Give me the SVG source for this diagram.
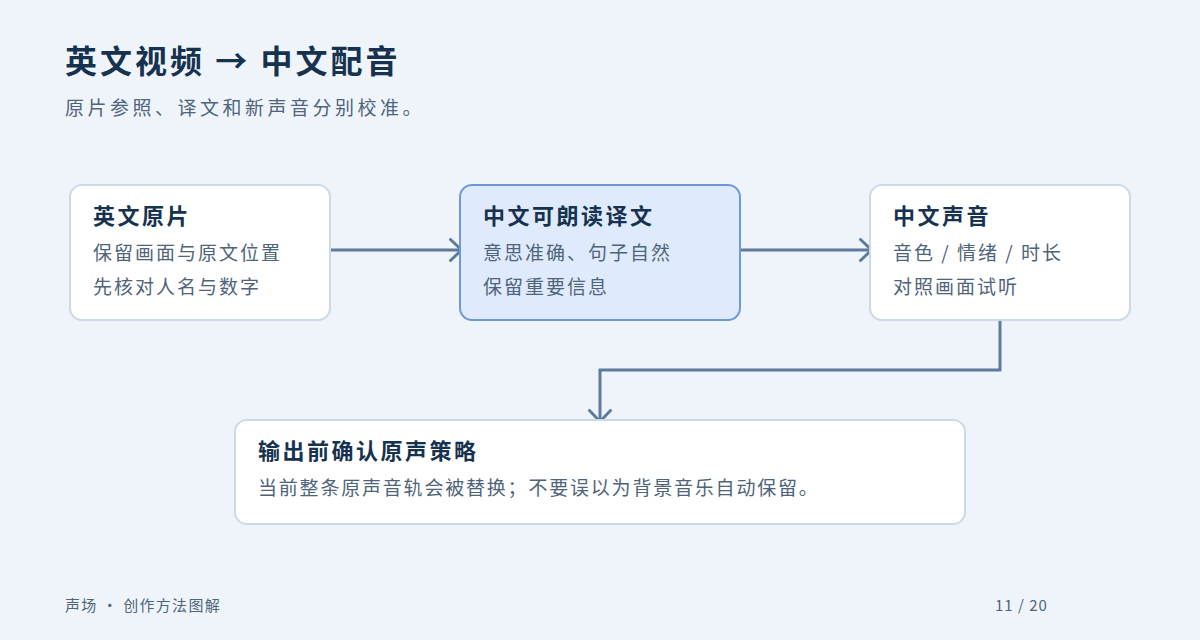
<svg xmlns="http://www.w3.org/2000/svg" width="1200" height="640" viewBox="0 0 1200 640">
<style>
text{font-family:"Noto Sans CJK SC","Noto Sans",sans-serif}
.box{fill:#fff;stroke:#cdd9e6;stroke-width:2}
.hl{fill:#dfeafc;stroke:#6f98d8;stroke-width:2}
.t{font-size:22px;font-weight:700;fill:#16324f;letter-spacing:2.5px}
.s{font-size:19px;fill:#4f647a;letter-spacing:2px}
.c{fill:none;stroke:#5f7b9c;stroke-width:3}
</style>
<defs><marker id="a" viewBox="0 0 14 24" refX="13" refY="12" markerWidth="14" markerHeight="24" markerUnits="userSpaceOnUse" orient="auto"><path d="M1.5 1.5 L12.5 12 L1.5 22.5" fill="none" stroke="#5f7b9c" stroke-width="3" stroke-linecap="round"/></marker></defs>
<rect width="1200" height="640" fill="#eff4fb"/>
<text x="65" y="73" font-size="32" font-weight="700" fill="#16324f" letter-spacing="3">英文视频 → 中文配音</text>
<text x="65" y="115" font-size="19" fill="#4f647a" letter-spacing="3.5">原片参照、译文和新声音分别校准。</text>
<g id="connectors">
<path class="c" d="M330 250 H462" marker-end="url(#a)"/>
<path class="c" d="M740 250 H872" marker-end="url(#a)"/>
<path class="c" d="M1000 320 V370 H600 V422" marker-end="url(#a)"/>
</g>
<g id="n1"><rect class="box" x="70" y="185" width="260" height="135" rx="12"/>
<text class="t" x="93" y="224">英文原片</text><text class="s" x="93" y="260">保留画面与原文位置</text><text class="s" x="93" y="294">先核对人名与数字</text></g>
<g id="n2"><rect class="hl" x="460" y="185" width="280" height="135" rx="12"/>
<text class="t" x="483" y="224">中文可朗读译文</text><text class="s" x="483" y="260">意思准确、句子自然</text><text class="s" x="483" y="294">保留重要信息</text></g>
<g id="n3"><rect class="box" x="870" y="185" width="260" height="135" rx="12"/>
<text class="t" x="893" y="224">中文声音</text><text class="s" x="893" y="260">音色 / 情绪 / 时长</text><text class="s" x="893" y="294">对照画面试听</text></g>
<g id="n4"><rect class="box" x="235" y="420" width="730" height="104" rx="12"/>
<text class="t" x="258" y="459">输出前确认原声策略</text><text class="s" x="258" y="495" style="letter-spacing:1.8px">当前整条原声音轨会被替换；不要误以为背景音乐自动保留。</text></g>
<text x="65" y="611" font-size="15" fill="#4f647a" letter-spacing="1.3">声场 · 创作方法图解</text>
<text x="995" y="611" font-size="15" fill="#4f647a" letter-spacing="1">11 / 20</text>
</svg>
